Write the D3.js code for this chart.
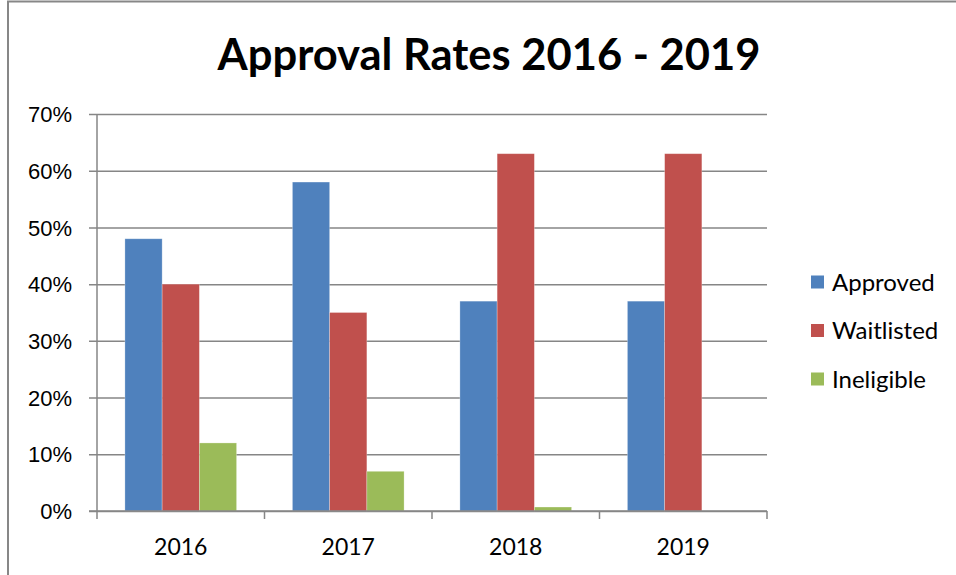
<!DOCTYPE html>
<html>
<head>
<meta charset="utf-8">
<script src="https://cdn.jsdelivr.net/npm/d3@7"></script>
<style>
  body { margin: 0; background: #fff; }
  svg { display: block; font-family: Lato, "Open Sans", sans-serif; }
</style>
</head>
<body>
<script>
const width = 956;
const height = 575;

// chart data
const years = ['2016', '2017', '2018', '2019'];
const series = ['Approved', 'Waitlisted', 'Ineligible'];
const approved = [0.48, 0.58, 0.37, 0.37];
const waitlisted = [0.40, 0.35, 0.63, 0.63];
const ineligible = [0.12, 0.07, 0.007, 0];
const colors = ['#4F81BD', '#C0504D', '#9BBB59'];
const y_ticks = [0, 0.1, 0.2, 0.3, 0.4, 0.5, 0.6, 0.7];

const values = { Approved: approved, Waitlisted: waitlisted, Ineligible: ineligible };

const plot = { left: 97, right: 767, top: 114, bottom: 511 };

const svg = d3.select('body').append('svg')
    .attr('width', width)
    .attr('height', height);

// chart area border (only top and left show)
svg.append('path')
    .attr('d', `M8,${height} V1.5 H${width}`)
    .attr('fill', 'none')
    .attr('stroke', '#878787')
    .attr('stroke-width', 2);

svg.append('text')
    .attr('x', 489)
    .attr('y', 70)
    .attr('text-anchor', 'middle')
    .attr('font-size', 43.5)
    .attr('font-weight', 'bold')
    .text('Approval Rates 2016 - 2019');

const x = d3.scaleBand().domain(years).range([plot.left, plot.right]);
const bw = x.bandwidth();
const bar_w = bw / 4.5; // gap width 150%
const x1 = d3.scaleBand().domain(series)
    .range([bar_w * 0.75, bw - bar_w * 0.75]);

const y = d3.scaleLinear().domain([0, 0.7]).range([plot.bottom, plot.top]);

// gridlines + y axis
const y_axis = d3.axisLeft(y)
    .tickValues(y_ticks)
    .tickFormat(d3.format('.0%'))
    .tickSize(8)
    .tickPadding(17);

const gy = svg.append('g')
    .attr('transform', `translate(${plot.left},0)`)
    .call(y_axis);
gy.select('.domain').remove();
gy.selectAll('.tick line')
    .attr('x2', plot.right - plot.left)
    .attr('x1', -8)
    .attr('stroke', '#868686')
    .attr('stroke-width', 1.5);
gy.selectAll('.tick text')
    .attr('font-size', 22)
    .attr('fill', '#000')
    .attr('dy', '0.35em');

// bars
const group = svg.append('g').selectAll('g')
    .data(years)
    .join('g')
    .attr('transform', (d) => `translate(${x(d)},0)`);

group.selectAll('rect')
    .data((d, i) => series.map((s, j) => ({ s: s, j: j, v: values[s][i] })))
    .join('rect')
    .attr('x', (d) => x1(d.s))
    .attr('width', x1.bandwidth())
    .attr('y', (d) => y(d.v))
    .attr('height', (d) => y(0) - y(d.v))
    .attr('fill', (d) => colors[d.j])
    .attr('stroke', (d) => d.v > 0 ? 'rgba(255,255,255,0.35)' : 'none')
    .attr('stroke-width', 0.75);

// y axis line
svg.append('line')
    .attr('x1', plot.left).attr('x2', plot.left)
    .attr('y1', plot.top).attr('y2', plot.bottom + 8)
    .attr('stroke', '#868686')
    .attr('stroke-width', 1.5);

// x axis
svg.append('line')
    .attr('x1', plot.left - 8).attr('x2', plot.right)
    .attr('y1', plot.bottom).attr('y2', plot.bottom)
    .attr('stroke', '#868686')
    .attr('stroke-width', 1.5);

svg.append('g').selectAll('line')
    .data(years)
    .join('line')
    .attr('x1', (d) => x(d) + bw).attr('x2', (d) => x(d) + bw)
    .attr('y1', plot.bottom).attr('y2', plot.bottom + 8)
    .attr('stroke', '#868686')
    .attr('stroke-width', 1.5);

svg.append('g').selectAll('text')
    .data(years)
    .join('text')
    .attr('x', (d) => x(d) + bw / 2)
    .attr('y', 555)
    .attr('text-anchor', 'middle')
    .attr('font-size', 23)
    .text((d) => d);

// legend
const legend = svg.append('g').selectAll('g')
    .data(series)
    .join('g')
    .attr('transform', (d, i) => `translate(811,${282 + i * 48.5})`);

legend.append('rect')
    .attr('x', 0).attr('y', -6.5)
    .attr('width', 13).attr('height', 13)
    .attr('fill', (d, i) => colors[i]);

legend.append('text')
    .attr('x', 21)
    .attr('y', 0)
    .attr('dy', '0.36em')
    .attr('font-size', 24)
    .text((d) => d);
</script>
</body>
</html>
